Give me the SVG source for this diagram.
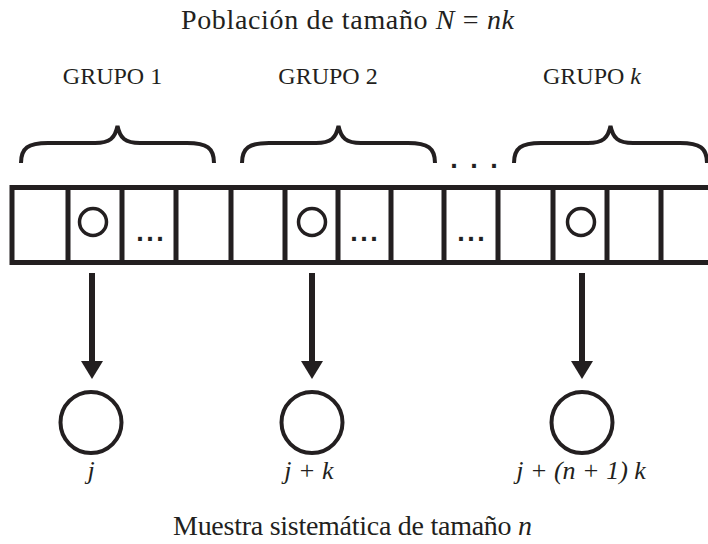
<svg xmlns="http://www.w3.org/2000/svg" width="708" height="544" viewBox="0 0 708 544">
<defs>
<style>
.t{font-family:"Liberation Serif","Times New Roman",serif;font-size:24px;fill:#231f20}
.big{font-size:28px}
.lab{font-size:26px}
.i{font-style:italic}
.strip{fill:none;stroke:#231f20;stroke-width:5}
.div{stroke:#231f20;stroke-width:5}
.brace{fill:none;stroke:#231f20;stroke-width:4;stroke-linecap:butt}
.mini{fill:none;stroke:#231f20;stroke-width:3.5}
.node{fill:none;stroke:#231f20;stroke-width:4}
.dots{font-family:"Liberation Sans",Arial,sans-serif;font-size:27px;font-weight:bold;fill:#231f20}
.conn{stroke:#231f20;stroke-width:6}
</style>
<marker id="ah" viewBox="0 0 18 22" refX="0" refY="11" markerWidth="18" markerHeight="22" markerUnits="userSpaceOnUse" orient="auto">
<path d="M0,0 L18,11 L0,22 Z" fill="#231f20"/>
</marker>
</defs>
<rect width="708" height="544" fill="#ffffff"/>
<text class="t big" x="347.5" y="29" text-anchor="middle" textLength="333" lengthAdjust="spacing">Población de tamaño <tspan class="i">N</tspan> = <tspan class="i">nk</tspan></text>
<text class="t" x="112.5" y="84" text-anchor="middle">GRUPO 1</text>
<text class="t" x="328" y="84" text-anchor="middle">GRUPO 2</text>
<text class="t" x="592" y="84" text-anchor="middle">GRUPO <tspan class="i">k</tspan></text>
<g id="braces">
<path class="brace" d="M21,163 C21,148 28,143 48,143 L95,143 C110,143 115,138 117.5,126 C120,138 125,143 140,143 L187,143 C207,143 214,148 214,163"/>
<path class="brace" d="M242,163 C242,148 249,143 269,143 L316,143 C331,143 336,138 338.5,126 C341,138 346,143 361,143 L408,143 C428,143 435,148 435,163"/>
<path class="brace" d="M514,163 C514,148 521,143 541,143 L588,143 C603,143 608,138 610.5,126 C613,138 618,143 633,143 L680,143 C700,143 707,148 707,163"/>
<text class="dots" x="454 474 494" y="168" text-anchor="middle" font-size="38">...</text>
</g>
<g id="strip">
<path class="strip" d="M712,187.5 L12,187.5 L12,262.5 L712,262.5"/>
<path class="div" d="M68,187.5V262.5 M122,187.5V262.5 M176,187.5V262.5 M231,187.5V262.5 M285,187.5V262.5 M338,187.5V262.5 M391,187.5V262.5 M444,187.5V262.5 M498,187.5V262.5 M553,187.5V262.5 M607,187.5V262.5 M661,187.5V262.5"/>
<circle class="mini" cx="93" cy="222" r="13.5"/>
<circle class="mini" cx="312" cy="222" r="13.5"/>
<circle class="mini" cx="581" cy="222" r="13.5"/>
<text class="dots" x="140 150 160" y="241" text-anchor="middle">...</text>
<text class="dots" x="354 364 374" y="241" text-anchor="middle">...</text>
<text class="dots" x="461 471 481" y="241" text-anchor="middle">...</text>
</g>
<g id="connectors">
<line class="conn" x1="92" y1="273" x2="92" y2="361" marker-end="url(#ah)"/>
<line class="conn" x1="312" y1="273" x2="312" y2="361" marker-end="url(#ah)"/>
<line class="conn" x1="582" y1="273" x2="582" y2="361" marker-end="url(#ah)"/>
</g>
<g id="node-j">
<circle class="node" cx="91" cy="422.5" r="30.5"/>
<text class="t i lab" x="91" y="479" text-anchor="middle">j</text>
</g>
<g id="node-jk">
<circle class="node" cx="312" cy="422.5" r="30.5"/>
<text class="t i lab" x="309" y="479" text-anchor="middle">j + k</text>
</g>
<g id="node-jnk">
<circle class="node" cx="582" cy="422.5" r="30.5"/>
<text class="t i lab" x="581" y="479" text-anchor="middle">j + (n + 1) k</text>
</g>
<text class="t big" x="352.5" y="535" text-anchor="middle" textLength="359" lengthAdjust="spacing">Muestra sistemática de tamaño <tspan class="i">n</tspan></text>
</svg>
